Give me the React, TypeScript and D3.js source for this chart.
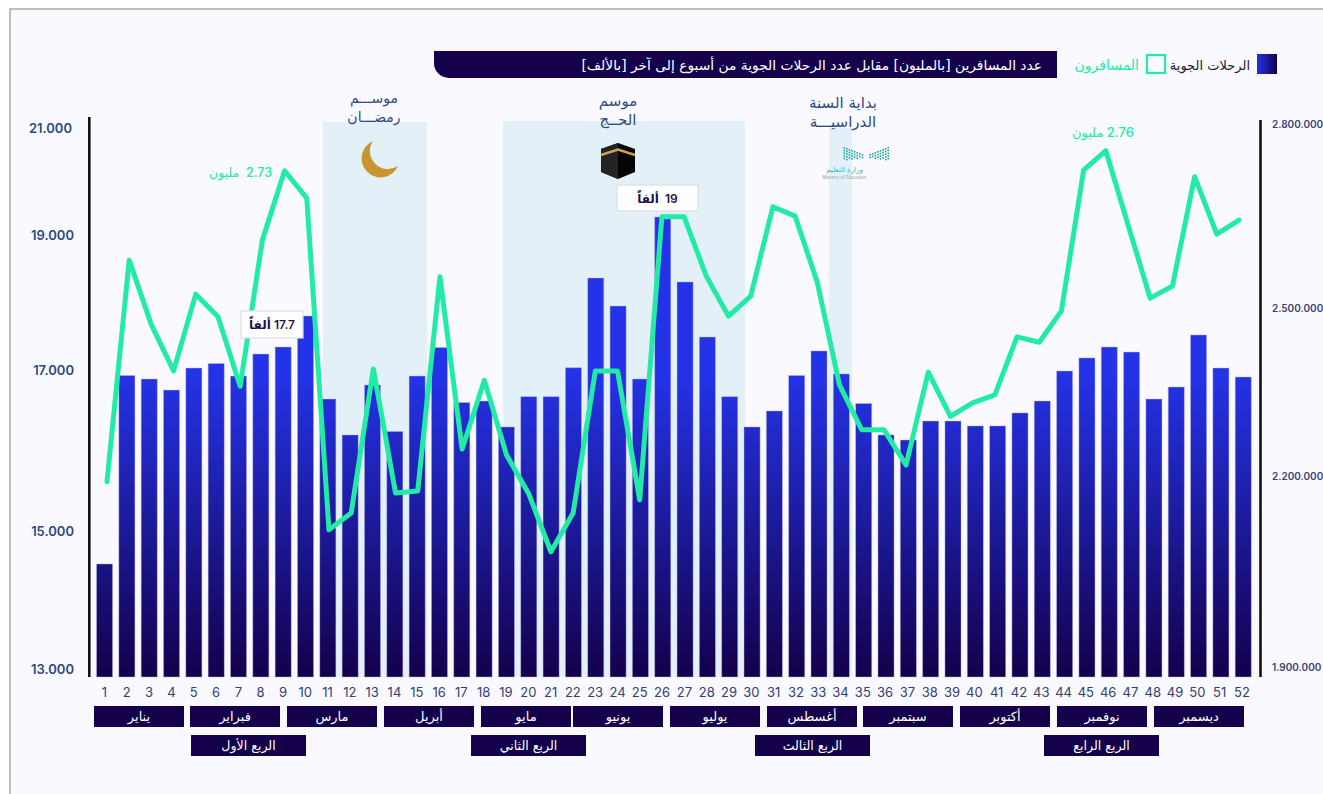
import React from "react";
import * as d3 from "d3";

const weeks = d3.range(1, 53);

// flights per week (labelled bars: week 10 = 17.7k, week 26 = 19k)
const flights = [
  14444, 16919, 16873, 16728, 17017, 17076, 16912, 17201, 17293, 17700, 16610,
  16138, 16794, 16184, 16912, 17287, 16564, 16584, 16243, 16641, 16641, 17021,
  18199, 17831, 16873, 19000, 18147, 17424, 16641, 16243, 16453, 16919, 17241,
  16939, 16551, 16138, 16072, 16321, 16321, 16256, 16256, 16427, 16584, 16978,
  17149, 17293, 17227, 16610, 16768, 17451, 17017, 16899,
];

// passengers per week, in millions
const passengers = [
  2.264, 2.596, 2.499, 2.43, 2.545, 2.511, 2.407, 2.626, 2.73, 2.689, 2.192,
  2.217, 2.433, 2.247, 2.25, 2.571, 2.313, 2.416, 2.304, 2.246, 2.159, 2.217,
  2.43, 2.43, 2.237, 2.661, 2.661, 2.572, 2.512, 2.542, 2.676, 2.662, 2.563,
  2.409, 2.342, 2.342, 2.289, 2.428, 2.362, 2.382, 2.394, 2.481, 2.473, 2.52,
  2.731, 2.76, 2.649, 2.539, 2.557, 2.721, 2.635, 2.656,
];

const months = [
  "يناير", "فبراير", "مارس", "أبريل", "مايو", "يونيو",
  "يوليو", "أغسطس", "سبتمبر", "أكتوبر", "نوفمبر", "ديسمبر",
];
const monthLeft = [94, 190, 287, 384, 481, 573, 670, 767, 863, 960, 1057, 1154];

const quarters = ["الربع الأول", "الربع الثاني", "الربع الثالث", "الربع الرابع"];
const quarterLeft = [191, 471, 755, 1044];

const leftTicks = [13000, 15000, 17000, 19000, 21000];
const rightTicks = [1900000, 2200000, 2500000, 2800000];

const NAVY = "#14004B";
const GREEN = "#22EBA5";
const SLATE = "#2C4A7E";
const BAND = "#E4F0F8";
const AR = "'DejaVu Sans', 'Noto Sans', sans-serif";
const NUM = "Inter, 'Noto Sans', sans-serif";

const barX = d3.scaleBand<number>().domain(weeks).range([93.4, 1254.4]).paddingInner(0.28).paddingOuter(0.14);
const lineX = d3.scalePoint<number>().domain(weeks).range([107, 1239]);
const labelX = d3.scalePoint<number>().domain(weeks).range([104.5, 1242]);
const barY = d3.scaleLinear().domain([12960, 19000]).range([677, 217]);
const lineY = d3.scaleLinear().domain([1.9, 2.8]).range([724.6, 124]);

// the printed axes are not evenly spaced, so ticks get their own positions
const leftTickY = d3.scaleLinear().domain(leftTicks).range([669, 531, 370, 235, 128]);
const rightTickY = d3.scaleLinear().domain(rightTicks).range([667, 476, 308, 124]);

const dotted = d3.formatLocale({ decimal: ",", thousands: ".", grouping: [3], currency: ["", ""] }).format(",");

const passengerLine = d3
  .line<number>()
  .x((_, i) => lineX(weeks[i]) as number)
  .y((d) => lineY(d));

const Note = ({ x, y, size, lines }: { x: number; y: number; size: number; lines: string[] }) => (
  <g fontFamily={AR} fontSize={size} fill={SLATE} textAnchor="middle">
    {lines.map((t, i) => (
      <text key={t} x={x} y={y + i * 19} direction="rtl">
        {t}
      </text>
    ))}
  </g>
);

const Callout = ({ x, y, w, h, text }: { x: number; y: number; w: number; h: number; text: string }) => (
  <g>
    <rect x={x} y={y} width={w} height={h} fill="#fff" stroke="#DEDEE4" strokeWidth={1.2} />
    <text
      x={x + w / 2}
      y={y + h / 2 + 4.5}
      textAnchor="middle"
      direction="rtl"
      fontFamily={NUM + ", " + AR}
      fontSize={12}
      fontWeight={600}
      fill="#1E1246"
    >
      {text}
    </text>
  </g>
);

const LogoDots = ({ x, flip }: { x: number; flip: boolean }) => (
  <g fill="#1FA79A">
    {d3.range(8).flatMap((c) =>
      d3.range(5 - Math.floor(c / 2)).map((r) => (
        <rect
          key={c + "-" + r}
          x={flip ? x - c * 2.6 : x + c * 2.6}
          y={147 + r * 2.7 + c * 1}
          width={1.6}
          height={1.6}
        />
      ))
    )}
  </g>
);

export default function App() {
  return (
    <svg
      width={1323}
      height={794}
      viewBox="0 0 1323 794"
      style={{ position: "absolute", left: 0, top: 0, display: "block" }}
    >
      <defs>
        <linearGradient id="barFill" gradientUnits="userSpaceOnUse" x1={0} y1={375} x2={0} y2={677}>
          <stop offset="0" stopColor="#2433E8" />
          <stop offset="1" stopColor={NAVY} />
        </linearGradient>
        <linearGradient id="legendFill" x1="0" x2="1" y1="0" y2="0">
          <stop offset="0" stopColor="#2433E8" />
          <stop offset="1" stopColor={NAVY} />
        </linearGradient>
      </defs>

      <rect width={1323} height={794} fill="#fff" />
      <rect x={10} y={9} width={1320} height={800} fill="#F9F9FF" stroke="#A9A9A9" strokeWidth={1.5} />

      {/* header */}
      <path d="M434,51 H1057 V78 H449 A15,15 0 0 1 434,63 Z" fill={NAVY} />
      <text x={1042} y={69.5} direction="rtl" textAnchor="start" fontFamily={AR} fontSize={13.8} fill="#fff">
        عدد المسافرين [بالمليون] مقابل عدد الرحلات الجوية من أسبوع إلى آخر [بالألف]
      </text>
      <rect x={1257} y={54} width={20} height={20} fill="url(#legendFill)" />
      <text x={1250} y={69.5} direction="rtl" textAnchor="start" fontFamily={AR} fontSize={13} fill="#1B1B2B">
        الرحلات الجوية
      </text>
      <rect x={1147} y={55} width={18} height={18} fill="none" stroke={GREEN} strokeWidth={2.2} />
      <text x={1139} y={69.5} direction="rtl" textAnchor="start" fontFamily={AR} fontSize={14} fill={GREEN}>
        المسافرون
      </text>

      {/* seasons */}
      <rect x={323} y={122} width={104} height={555} fill={BAND} />
      <rect x={503} y={121} width={242} height={556} fill={BAND} />
      <rect x={829} y={128} width={23} height={549} fill={BAND} />
      <Note x={374} y={103} size={14} lines={["موســـم", "رمضـــان"]} />
      <Note x={618} y={106} size={15} lines={["موسم", "الحــج"]} />
      <Note x={843} y={108} size={15} lines={["بداية السنة", "الدراسيـــة"]} />

      <path d="M373,141 A19,19 0 1 0 398,166 A18,18 0 0 1 373,141 Z" fill="#C8962E" />

      <polygon points="618,143 635,149 635,172 618,179 601,172 601,149" fill="#050505" />
      <polygon points="618,143 618,179 601,172 601,149" fill="#232323" />
      <polyline points="601,155 618,149.5 635,155" fill="none" stroke="#C9A24A" strokeWidth={2.4} />

      <LogoDots x={843.5} flip={false} />
      <LogoDots x={887.5} flip={true} />
      <text x={844.5} y={172} textAnchor="middle" direction="rtl" fontFamily={AR} fontSize={7} fill="#3DB7AB">
        وزارة التعليم
      </text>
      <text x={844.5} y={179} textAnchor="middle" fontFamily={NUM} fontSize={4.4} fill="#9A9AA8">
        Ministry of Education
      </text>

      {/* bars */}
      <g>
        {flights.map((v, i) => (
          <rect
            key={weeks[i]}
            x={barX(weeks[i])}
            y={barY(v)}
            width={barX.bandwidth()}
            height={barY(12960) - barY(v)}
            fill="url(#barFill)"
            stroke="#B9B6E6"
            strokeOpacity={0.55}
            strokeWidth={0.8}
          />
        ))}
      </g>

      {/* axes */}
      <line x1={89.3} x2={89.3} y1={117} y2={677} stroke="#111" strokeWidth={2.6} />
      <line x1={1260.5} x2={1260.5} y1={120} y2={677} stroke="#111" strokeWidth={2.6} />
      <g fontFamily={NUM} fontSize={13} fontWeight={600} fill={SLATE} textAnchor="end">
        {leftTicks.map((t) => (
          <text key={t} x={t === 21000 ? 72 : 74} y={leftTickY(t) + 4.5}>
            {dotted(t)}
          </text>
        ))}
      </g>
      <g fontFamily={NUM} fontSize={10} fontWeight={600} fill="#3D4270">
        {rightTicks.map((t) => (
          <text key={t} x={1272} y={rightTickY(t) + 3.5}>
            {dotted(t)}
          </text>
        ))}
      </g>

      <path
        d={passengerLine(passengers) as string}
        fill="none"
        stroke={GREEN}
        strokeWidth={5}
        strokeLinejoin="round"
        strokeLinecap="round"
      />

      <Callout x={617} y={185} w={81} h={26} text={"19\u00A0\u00A0ألفاً"} />
      <Callout x={241} y={311} w={62} h={27} text="17.7 ألفاً" />
      <text x={272} y={177} direction="rtl" textAnchor="start" fontFamily={NUM + ", " + AR} fontSize={12.5} fontWeight={500} fill={GREEN}>
        {"2.73\u00A0\u00A0مليون"}
      </text>
      <text x={1134} y={137} direction="rtl" textAnchor="start" fontFamily={NUM + ", " + AR} fontSize={13} fontWeight={500} fill={GREEN}>
        2.76 مليون
      </text>

      {/* week numbers, months, quarters */}
      <g fontFamily={NUM} fontSize={13} fill="#33406F" textAnchor="middle">
        {weeks.map((w) => (
          <text key={w} x={labelX(w)} y={697}>
            {w}
          </text>
        ))}
      </g>
      {months.map((m, i) => (
        <g key={m}>
          <rect x={monthLeft[i]} y={706} width={90} height={21} fill={NAVY} />
          <text x={monthLeft[i] + 45} y={721} textAnchor="middle" direction="rtl" fontFamily={AR} fontSize={13} fill="#fff">
            {m}
          </text>
        </g>
      ))}
      {quarters.map((q, i) => (
        <g key={q}>
          <rect x={quarterLeft[i]} y={735} width={115} height={21} fill={NAVY} />
          <text x={quarterLeft[i] + 57.5} y={749.5} textAnchor="middle" direction="rtl" fontFamily={AR} fontSize={12.6} fill="#fff">
            {q}
          </text>
        </g>
      ))}
    </svg>
  );
}
